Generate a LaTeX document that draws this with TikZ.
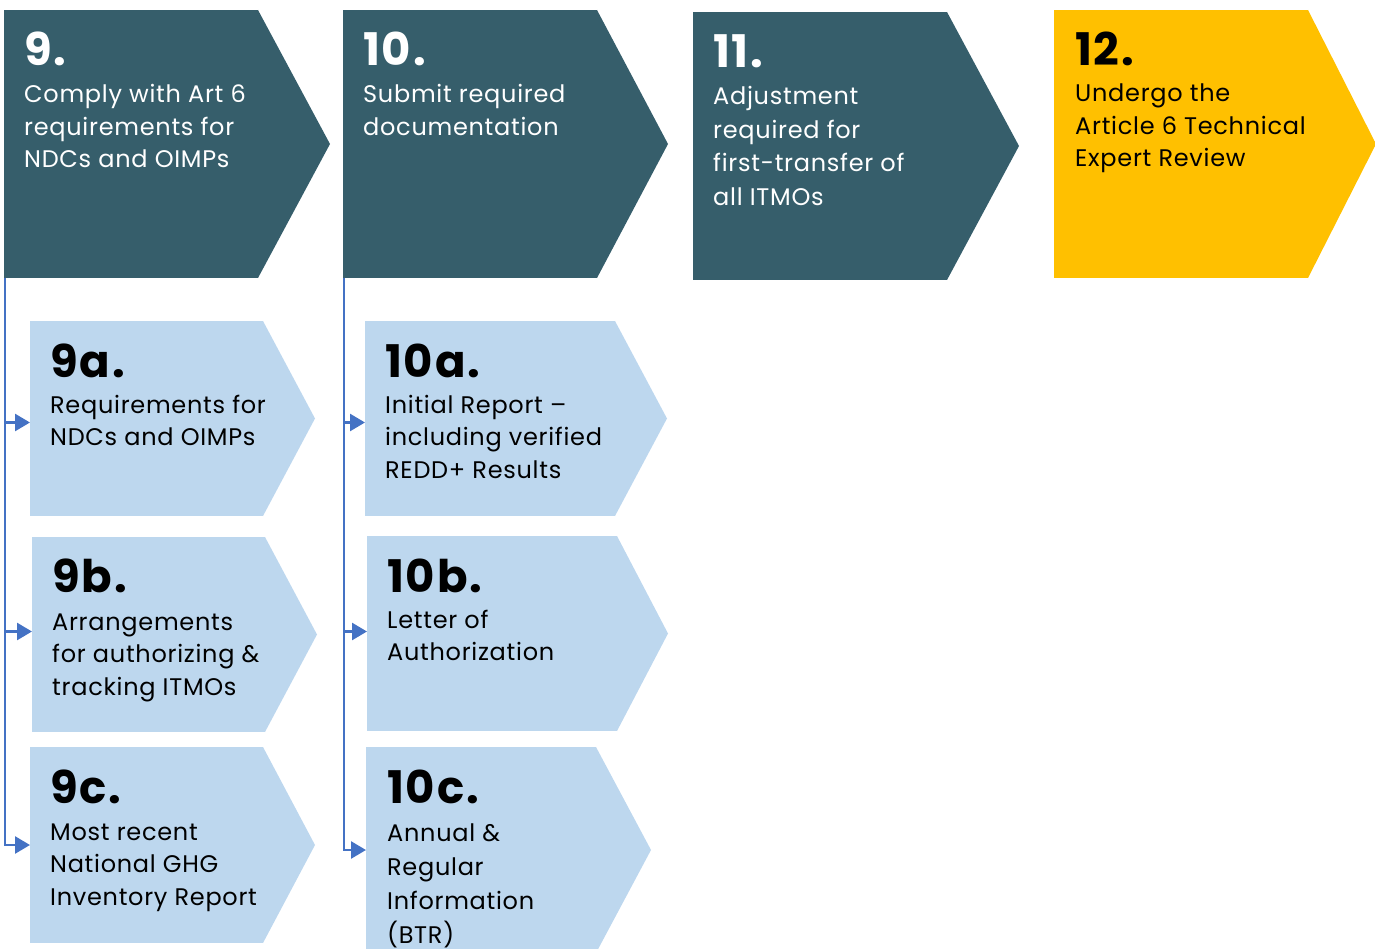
\documentclass[tikz,border=0pt]{standalone}
\usepackage{fontspec}
\setmainfont{Poppins}
\newfontfamily\numfont[LetterSpace=4]{Poppins}
\newfontfamily\txtfont[LetterSpace=3]{Poppins}
\usetikzlibrary{arrows.meta}
\definecolor{darkteal}{RGB}{54,94,107}
\definecolor{paleblue}{RGB}{189,215,238}
\definecolor{goldbox}{RGB}{255,192,0}
\definecolor{linkblue}{RGB}{68,114,196}
\tikzset{
  shapebox/.style={inner sep=0pt, outer sep=0pt, anchor=north west, draw=none},
  numtxt/.style={anchor=base west, inner sep=0pt, font=\numfont\fontsize{45}{45}\selectfont\bfseries},
  bodytxt/.style={anchor=base west, inner sep=0pt, align=left, font=\txtfont\fontsize{24}{32.5}\selectfont},
  link/.style={draw=linkblue, line width=2.6pt, -{Triangle[length=15pt,width=17pt]}}
}
% name, colour, x, y, width, height, tip
\newcommand\chevbox[7]{%
  \node[shapebox, fill=#2, minimum width=#5pt, minimum height=#6pt] (#1) at (#3,#4) {};
  \fill[#2] (#1.north east) -- ([xshift=#7pt]#1.east) -- (#1.south east) -- cycle;
}
\begin{document}
\begin{tikzpicture}[x=1pt,y=-1pt]
\useasboundingbox (0,0) rectangle (1375,949);
% top row
\chevbox{b9}{darkteal}{4}{10}{254}{268}{72}
\chevbox{b10}{darkteal}{343}{10}{254}{268}{71}
\chevbox{b11}{darkteal}{693}{12}{254}{268}{72}
\chevbox{b12}{goldbox}{1054}{10}{254}{268}{68}
% sub boxes
\chevbox{b9a}{paleblue}{30}{321}{233}{195}{52}
\chevbox{b9b}{paleblue}{32}{537}{233}{195}{52}
\chevbox{b9c}{paleblue}{30}{747}{233}{196}{52}
\chevbox{b10a}{paleblue}{365}{321}{250}{195}{52}
\chevbox{b10b}{paleblue}{367}{536}{250}{195}{51}
\chevbox{b10c}{paleblue}{366}{747}{230}{206}{55}
% texts (body nodes are placed at the baseline of their last line)
\node[numtxt, text=white] (n9) at (24,66) {9.};
\node[bodytxt, text=white] (t9) at (24,168) {Comply with Art 6\\requirements for\\NDCs and OIMPs};
\node[numtxt, text=white] (n10) at (363,66) {10.};
\node[bodytxt, text=white] (t10) at (363,135.5) {Submit required\\documentation};
\node[numtxt, text=white] (n11) at (713,68) {11.};
\node[bodytxt, text=white, font=\txtfont\fontsize{24}{33.5}\selectfont] (t11) at (713,205.5) {Adjustment\\required for\\first-transfer of\\all ITMOs};
\node[numtxt, text=black] (n12) at (1075,66) {12.};
\node[bodytxt, text=black] (t12) at (1075,167) {Undergo the\\Article 6 Technical\\Expert Review};
\node[numtxt] (n9a) at (50,377) {9a.};
\node[bodytxt] (t9a) at (50,445.5) {Requirements for\\NDCs and OIMPs};
\node[numtxt] (n9b) at (52,592) {9b.};
\node[bodytxt] (t9b) at (52,695) {Arrangements\\for authorizing \&\\tracking ITMOs};
\node[numtxt] (n9c) at (50,803) {9c.};
\node[bodytxt] (t9c) at (50,905) {Most recent\\National GHG\\Inventory Report};
\node[numtxt] (n10a) at (385,377) {10a.};
\node[bodytxt] (t10a) at (385,478) {Initial Report –\\including verified\\REDD+ Results};
\node[numtxt] (n10b) at (387,592) {10b.};
\node[bodytxt] (t10b) at (387,660.5) {Letter of\\Authorization};
\node[numtxt] (n10c) at (387,803) {10c.};
\node[bodytxt, font=\txtfont\fontsize{24}{33.7}\selectfont] (t10c) at (387,943) {Annual \&\\Regular\\Information\\(BTR)};
% connectors
\draw[link] ([xshift=1pt]b9.south west) |- ([yshift=-4pt]b9a.west);
\draw[link] ([xshift=1pt]b9.south west) |- ([yshift=3pt]b9b.west);
\draw[link] ([xshift=1pt]b9.south west) |- (b9c.west);
\draw[link] ([xshift=1pt]b10.south west) |- ([yshift=-4pt]b10a.west);
\draw[link] ([xshift=1pt]b10.south west) |- ([yshift=2pt]b10b.west);
\draw[link] ([xshift=1pt]b10.south west) |- (b10c.west);
\end{tikzpicture}
\end{document}
